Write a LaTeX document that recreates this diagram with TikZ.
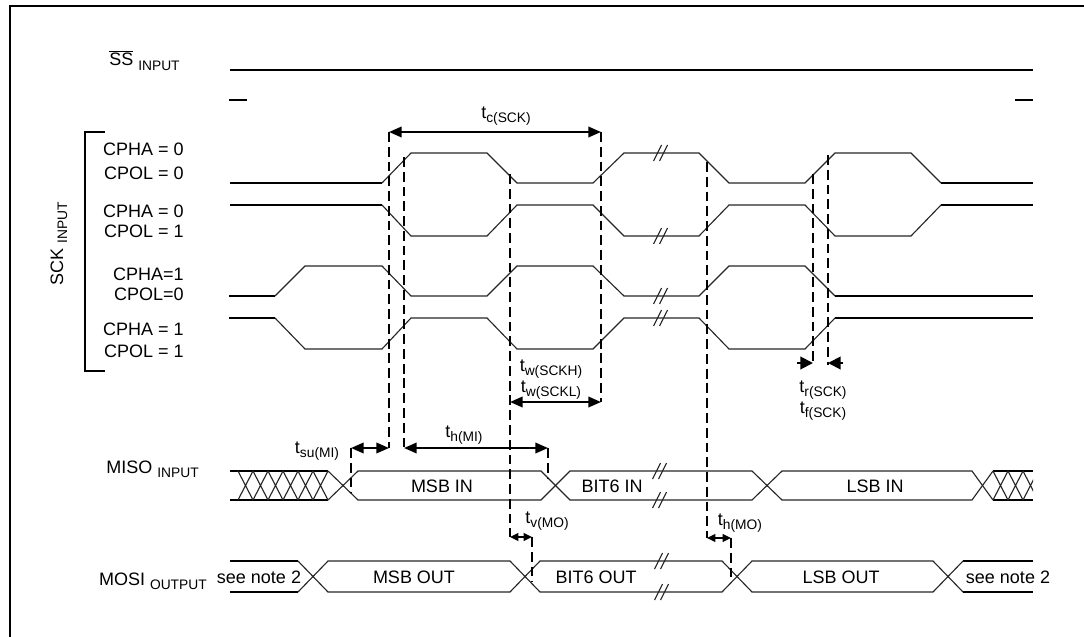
\documentclass[tikz,border=0pt]{standalone}
\usepackage{fontspec}
\setmainfont{Liberation Sans}
\usetikzlibrary{arrows.meta}
\newcommand{\tsub}[1]{\raisebox{-3pt}{\fontsize{9.8}{11}\selectfont #1}}

\begin{document}
\begin{tikzpicture}[x=0.025cm,y=-0.025cm]
\tikzset{
  sig/.style={line width=0.8pt,draw=black!85},
  lead/.style={line width=1.5pt,draw=black},
  dl/.style={line width=1.4pt,dash pattern=on 7pt off 3.5pt},
  ar/.style={{Triangle[length=9pt,width=7.5pt]}-{Triangle[length=9pt,width=7.5pt]},line width=1.4pt},
  sar/.style={{Triangle[length=6pt,width=5.5pt]}-{Triangle[length=6pt,width=5.5pt]},line width=1.2pt},
  tip/.style={-{Triangle[length=9pt,width=9pt]},line width=1.4pt},
  lbl/.style={font=\fontsize{12.8}{15}\selectfont,inner sep=0pt}
}
\useasboundingbox (0,0) rectangle (1084,637);
\draw[line width=1.7pt] (10,637) -- (10,6) -- (1084,6);
% signal names
\node[lbl,anchor=base west] (ss) at (109,66) {$\overline{\mbox{SS}}$ \tsub{INPUT}};
\node[lbl,anchor=base,rotate=90] (sck) at (63,244) {SCK \tsub{INPUT}};
\node[lbl,anchor=base east] (miso) at (199,473) {MISO \tsub{INPUT}};
\node[lbl,anchor=base east] (mosi) at (207,585) {MOSI \tsub{OUTPUT}};
\draw[line width=1.4pt] (105,132) -- (85,132) -- (85,371) -- (105,371);
\node[lbl,anchor=base east] (ph1) at (184,155) {CPHA = 0};
\node[lbl,anchor=base east] (po1) at (184,179) {CPOL = 0};
\node[lbl,anchor=base east] (ph2) at (184,217) {CPHA = 0};
\node[lbl,anchor=base east] (po2) at (184,237) {CPOL = 1};
\node[lbl,anchor=base east] (ph3) at (184,280) {CPHA=1};
\node[lbl,anchor=base east] (po3) at (184,300) {CPOL=0};
\node[lbl,anchor=base east] (ph4) at (184,335) {CPHA = 1};
\node[lbl,anchor=base east] (po4) at (184,357) {CPOL = 1};
% SS
\draw[lead] (230,70) -- (1033,70);
\draw[lead] (229,100) -- (247,100) (1015,100) -- (1033,100);
% SCK
\draw[lead] (230,183) -- (382,183) (941,183) -- (1033,183);
\draw[sig] (382,183) -- (411,153) -- (487,153) -- (517,183) -- (593,183) -- (624,153) -- (699,153) -- (729,183) -- (805,183) -- (835,153) -- (911,153) -- (941,183);
\draw[lead] (230,205) -- (382,205) (941,205) -- (1033,205);
\draw[sig] (382,205) -- (411,236) -- (487,236) -- (517,205) -- (593,205) -- (624,236) -- (699,236) -- (729,205) -- (805,205) -- (835,236) -- (911,236) -- (941,205);
\draw[lead] (229,296) -- (275,296) (835,296) -- (1033,296);
\draw[sig] (275,296) -- (305,266) -- (382,266) -- (411,296) -- (487,296) -- (517,266) -- (593,266) -- (624,296) -- (699,296) -- (729,266) -- (805,266) -- (835,296);
\draw[lead] (229,318) -- (275,318) (835,318) -- (1033,318);
\draw[sig] (275,318) -- (305,349) -- (382,349) -- (411,318) -- (487,318) -- (517,349) -- (593,349) -- (624,318) -- (699,318) -- (729,349) -- (805,349) -- (835,318);
% MISO
\draw[lead] (230,471) -- (328,471) (230,500) -- (328,500) (993,471) -- (1033,471) (993,500) -- (1033,500);
\foreach \x in {238,253,...,313} \draw[sig] (\x,471) -- (\x+15,500) (\x,500) -- (\x+15,471);
\begin{scope}
  \clip (993,460) rectangle (1033,510);
  \foreach \x in {993,1008,1023} \draw[sig] (\x,471) -- (\x+15,500) (\x,500) -- (\x+15,471);
\end{scope}
\draw[sig] (328,471) -- (358,500) -- (541,500) -- (570,471) -- (752,471) -- (782,500) -- (972,500) -- (993,471);
\draw[sig] (328,500) -- (358,471) -- (541,471) -- (570,500) -- (752,500) -- (782,471) -- (972,471) -- (993,500);
\node[lbl] (msbin) at (442,486) {MSB IN};
\node[lbl] (b6in) at (612,486) {BIT6 IN};
\node[lbl] (lsbin) at (875,486) {LSB IN};
% MOSI
\draw[lead] (230,561) -- (298,561) (230,592) -- (298,592) (963,561) -- (1033,561) (963,592) -- (1033,592);
\draw[sig] (298,561) -- (328,592) -- (510,592) -- (540,561) -- (722,561) -- (752,592) -- (933,592) -- (963,561);
\draw[sig] (298,592) -- (328,561) -- (510,561) -- (540,592) -- (722,592) -- (752,561) -- (933,561) -- (963,592);
\node[lbl] (note1) at (259,577) {see note 2};
\node[lbl] (msbout) at (414,577) {MSB OUT};
\node[lbl] (b6out) at (596,577) {BIT6 OUT};
\node[lbl] (lsbout) at (841,577) {LSB OUT};
\node[lbl] (note2) at (1008,577) {see note 2};
% breaks
\foreach \x/\y in {661/153,661/236,661/296,661/318,660/471,660/500,662/561,662/592}{
  \draw[sig] (\x-7.5,\y+8) -- (\x+0.5,\y-8);
  \draw[sig] (\x-1.5,\y+8) -- (\x+6.5,\y-8);
}
% timing marks
\coordinate (d1-t) at (389,132); \coordinate (d1-b) at (389,448);
\coordinate (d2-t) at (404,157); \coordinate (d2-b) at (404,448);
\coordinate (d3-t) at (510,174); \coordinate (d3-b) at (510,537);
\coordinate (d4-t) at (601,132); \coordinate (d4-b) at (601,402);
\coordinate (d5-t) at (707,162); \coordinate (d5-b) at (707,538);
\coordinate (d6-t) at (813,174); \coordinate (d6-b) at (813,365);
\coordinate (d7-t) at (828,155); \coordinate (d7-b) at (828,365);
\coordinate (su-t) at (351,448); \coordinate (su-b) at (351,493);
\coordinate (hi-t) at (548,448); \coordinate (hi-b) at (548,478);
\coordinate (vo-t) at (532,537); \coordinate (vo-b) at (532,582);
\coordinate (ho-t) at (731,538); \coordinate (ho-b) at (731,582);
\foreach \d in {d1,d2,d3,d4,d5,d6,d7,su,hi,vo,ho} \draw[dl] (\d-t) -- (\d-b);
\draw[ar] (d1-t) -- (d4-t);
\draw[ar] (d3-t |- d4-b) -- (d4-b);
\draw[ar] (su-t) -- (d1-b);
\draw[ar] (d2-b) -- (hi-t);
\draw[sar] (d3-b) -- (vo-t);
\draw[sar] (d5-b) -- (ho-t);
\coordinate (tr-s) at (797,363); \coordinate (tf-s) at (843,363);
\draw[tip] (tr-s) -- (d6-t |- tr-s);
\draw[tip] (tf-s) -- (d7-t |- tf-s);
\node[lbl,anchor=base] (tc) at (506,118) {t\tsub{c(SCK)}};
\node[lbl,anchor=base] (twh) at (551,371) {t\tsub{w(SCKH)}};
\node[lbl,anchor=base] (twl) at (551,392) {t\tsub{w(SCKL)}};
\node[lbl,anchor=base] (tsu) at (317,453) {t\tsub{su(MI)}};
\node[lbl,anchor=base] (thmi) at (464,437) {t\tsub{h(MI)}};
\node[lbl,anchor=base] (tv) at (547,523) {t\tsub{v(MO)}};
\node[lbl,anchor=base] (thmo) at (740,525) {t\tsub{h(MO)}};
\node[lbl,anchor=base] (tr) at (823,392) {t\tsub{r(SCK)}};
\node[lbl,anchor=base] (tf) at (823,413) {t\tsub{f(SCK)}};
\end{tikzpicture}
\end{document}
